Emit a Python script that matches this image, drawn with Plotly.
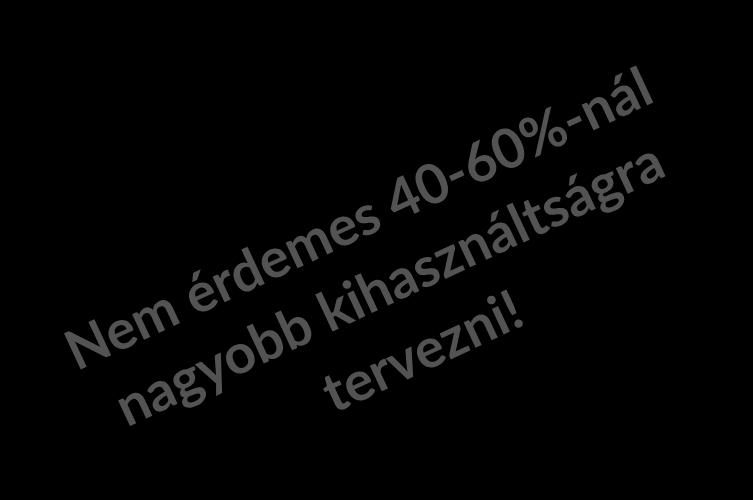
import plotly.graph_objects as go

# Text lines of the slide note, with where each line is centred (paper coords)
lines = ["Nem érdemes 40-60%-nál", "nagyobb kihasználtságra", "tervezni!"]
line_x = [0.4754, 0.5166, 0.5591]
line_y = [0.566, 0.436, 0.300]

fig = go.Figure()

for txt, x, y in zip(lines, line_x, line_y):
    fig.add_annotation(
        x=x, y=y,
        xref='paper', yref='paper',
        text="<b>" + txt + "</b>",
        showarrow=False,
        textangle=-25,
        xanchor='center', yanchor='middle',
        font=dict(family='Lato', size=55, color='#535353'),
    )

fig.update_layout(
    width=753, height=500,
    margin=dict(l=0, r=0, t=0, b=0),
    paper_bgcolor='black',
    plot_bgcolor='black',
    xaxis=dict(visible=False),
    yaxis=dict(visible=False),
    showlegend=False,
)

# page itself black with no body margin, no modebar
fig.write_html(
    "out.html",
    config={'displayModeBar': False},
    post_script="document.body.style.margin='0';document.body.style.background='black';",
)
